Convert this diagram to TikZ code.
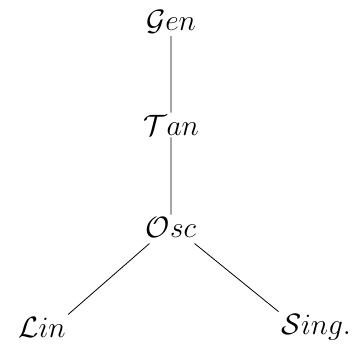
\documentclass[tikz,border=0pt]{standalone}
\usepackage{tikz}
\usetikzlibrary{positioning}

\begin{document}
\begin{tikzpicture}[x=1pt, y=-1pt,
    obj/.style={inner sep=1.5pt, scale=1.42, font=\huge},
    link/.style={draw=black, line width=0.8pt}
]
    \useasboundingbox (0,0) rectangle (353,349);
    % objects
    \node[obj] (gen) at (171,22) {$\mathcal{G}en$};
    \node[obj] (tan) at (171,125) {$\mathcal{T}an$};
    \node[obj] (osc) at (171,227) {$\mathcal{O}sc$};
    \node[obj] (lin) at (42,327) {$\mathcal{L}in$};
    \node[obj] (sing) at (316,327) {$\mathcal{S}ing.$};
    % links
    \draw[link] (gen) -- (tan);
    \draw[link] (tan) -- (osc);
    \draw[link] (osc.south west) ++(6,4) -- (lin.north east);
    \draw[link] (osc.south east) ++(-4,4) -- (sing.north west);
\end{tikzpicture}
\end{document}
